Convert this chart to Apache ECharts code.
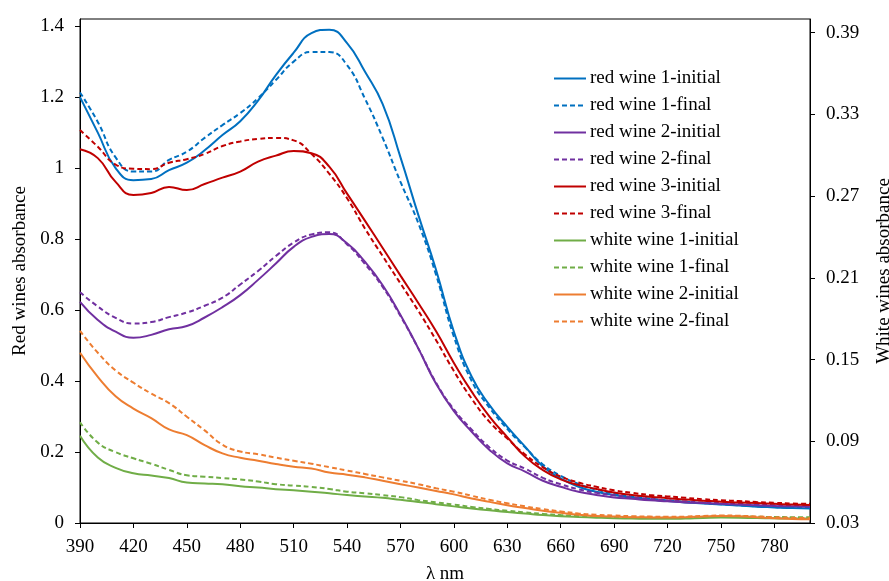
<!DOCTYPE html>
<html>
<head>
<meta charset="utf-8">
<script src="https://cdn.jsdelivr.net/npm/echarts@6/dist/echarts.min.js"></script>
<style>
  html, body { margin: 0; padding: 0; background: #fff; }
  #main { width: 889px; height: 581px; }
</style>
</head>
<body>
<div id="main"></div>
<script>
// wavelengths (nm)
var wavelengths = [390, 400, 410, 420, 430, 440, 450, 460, 470, 480, 490, 500, 510, 520, 530, 540, 550, 560, 570, 580,
  590, 600, 610, 620, 630, 640, 650, 660, 670, 680, 690, 700, 710, 720, 730, 740, 750, 760, 770, 780, 790, 800];

// red wines (left axis)
var red1Initial = [1.20, 1.10, 1.00, 0.966, 0.969, 0.994, 1.015, 1.05, 1.093, 1.132, 1.19, 1.262, 1.325, 1.38, 1.39, 1.352, 1.272, 1.18, 1.03, 0.868,
  0.713, 0.539, 0.412, 0.332, 0.271, 0.215, 0.159, 0.126, 0.102, 0.088, 0.079, 0.071, 0.066, 0.062, 0.058, 0.055, 0.052, 0.049, 0.046, 0.044, 0.042, 0.041];
var red1Final = [1.213, 1.13, 1.03, 0.99, 0.99, 1.023, 1.046, 1.085, 1.121, 1.155, 1.197, 1.248, 1.300, 1.327, 1.327, 1.29, 1.196, 1.085, 0.961, 0.845,
  0.699, 0.525, 0.40, 0.325, 0.265, 0.213, 0.165, 0.133, 0.11, 0.094, 0.083, 0.075, 0.069, 0.064, 0.06, 0.056, 0.053, 0.05, 0.047, 0.045, 0.043, 0.042];
var red2Initial = [0.623, 0.572, 0.539, 0.522, 0.53, 0.546, 0.555, 0.579, 0.608, 0.642, 0.685, 0.731, 0.778, 0.806, 0.814, 0.788, 0.736, 0.670, 0.586, 0.492,
  0.392, 0.315, 0.257, 0.206, 0.168, 0.145, 0.119, 0.102, 0.088, 0.079, 0.072, 0.068, 0.064, 0.061, 0.058, 0.056, 0.054, 0.052, 0.050, 0.048, 0.047, 0.046];
var red2Final = [0.650, 0.61, 0.578, 0.562, 0.566, 0.58, 0.593, 0.612, 0.635, 0.672, 0.71, 0.752, 0.79, 0.813, 0.819, 0.785, 0.73, 0.665, 0.583, 0.492,
  0.395, 0.320, 0.263, 0.213, 0.176, 0.153, 0.127, 0.109, 0.095, 0.085, 0.078, 0.073, 0.068, 0.064, 0.061, 0.058, 0.056, 0.054, 0.052, 0.050, 0.049, 0.048];
var red3Initial = [1.053, 1.028, 0.961, 0.924, 0.93, 0.947, 0.938, 0.955, 0.973, 0.99, 1.018, 1.035, 1.048, 1.042, 1.004, 0.928, 0.852, 0.775, 0.697, 0.62,
  0.54, 0.451, 0.37, 0.30, 0.242, 0.187, 0.149, 0.123, 0.107, 0.096, 0.086, 0.079, 0.074, 0.070, 0.066, 0.063, 0.060, 0.058, 0.056, 0.054, 0.052, 0.051];
var red3Final = [1.107, 1.06, 1.01, 0.998, 0.997, 1.015, 1.025, 1.04, 1.062, 1.075, 1.082, 1.085, 1.078, 1.04, 0.984, 0.915, 0.83, 0.752, 0.675, 0.598,
  0.515, 0.428, 0.35, 0.285, 0.238, 0.193, 0.157, 0.131, 0.114, 0.102, 0.092, 0.085, 0.079, 0.075, 0.071, 0.067, 0.064, 0.062, 0.059, 0.057, 0.055, 0.054];

// white wines (right axis)
var white1Initial = [0.094, 0.078, 0.0705, 0.0665, 0.0648, 0.063, 0.0597, 0.059, 0.0585, 0.057, 0.056, 0.0548, 0.054, 0.053, 0.0518, 0.0505, 0.0495, 0.0485, 0.047, 0.0455,
  0.0438, 0.0422, 0.0407, 0.0393, 0.038, 0.0369, 0.0358, 0.035, 0.0344, 0.0339, 0.0335, 0.0333, 0.0331, 0.0331, 0.0333, 0.0337, 0.034, 0.0339, 0.0336, 0.0334, 0.0333, 0.0333];
var white1Final = [0.104, 0.089, 0.082, 0.0775, 0.0735, 0.069, 0.065, 0.064, 0.063, 0.062, 0.0605, 0.0585, 0.0575, 0.0565, 0.055, 0.053, 0.0518, 0.0505, 0.049, 0.0468,
  0.0452, 0.0435, 0.0418, 0.0403, 0.039, 0.0378, 0.0367, 0.0358, 0.0352, 0.0347, 0.0343, 0.034, 0.0339, 0.0339, 0.034, 0.0345, 0.0348, 0.0348, 0.0346, 0.0344, 0.0343, 0.0343];
var white2Initial = [0.155, 0.1373, 0.123, 0.114, 0.107, 0.0987, 0.0945, 0.0872, 0.0811, 0.0779, 0.0757, 0.0733, 0.0713, 0.070, 0.067, 0.0655, 0.0635, 0.061, 0.0585, 0.056,
  0.0535, 0.051, 0.048, 0.0455, 0.043, 0.041, 0.039, 0.0375, 0.036, 0.0352, 0.0347, 0.0343, 0.0341, 0.034, 0.0342, 0.0348, 0.0352, 0.035, 0.0343, 0.0335, 0.033, 0.0327];
var white2Final = [0.171, 0.155, 0.142, 0.133, 0.125, 0.118, 0.108, 0.098, 0.0875, 0.0825, 0.0805, 0.078, 0.0757, 0.0735, 0.071, 0.0685, 0.066, 0.0635, 0.061, 0.0585,
  0.0555, 0.053, 0.050, 0.047, 0.0445, 0.0422, 0.0402, 0.0385, 0.037, 0.036, 0.0355, 0.035, 0.0347, 0.0345, 0.0347, 0.0352, 0.0355, 0.0353, 0.0348, 0.0342, 0.0338, 0.0335];

// tick labels
var xTicks = [390, 420, 450, 480, 510, 540, 570, 600, 630, 660, 690, 720, 750, 780];
var leftTicks = [0, 0.2, 0.4, 0.6, 0.8, 1, 1.2, 1.4];
var rightTicks = [0.03, 0.09, 0.15, 0.21, 0.27, 0.33, 0.39];

var FONT = 'Liberation Serif';
var BLUE = '#0070C0', PURPLE = '#7030A0', RED = '#C00000', GREEN = '#70AD47', ORANGE = '#ED7D31';

function pairs(vals) {
  return wavelengths.map(function (w, i) { return [w, vals[i]]; });
}

function line(name, vals, color, dashed, axis) {
  return {
    name: name,
    type: 'line',
    yAxisIndex: axis,
    data: pairs(vals),
    smooth: 0.5,
    smoothConstraint: false,
    symbol: 'none',
    lineStyle: { color: color, width: 2, type: dashed ? [5, 3] : 'solid' },
    itemStyle: { color: color }
  };
}

var myChart = echarts.init(document.getElementById('main'));

myChart.setOption({
  backgroundColor: '#fff',
  animation: false,
  textStyle: { fontFamily: FONT },
  grid: {
    left: 80, right: 79, top: 19, bottom: 58,
    containLabel: false, outerBoundsMode: 'none',
    show: true, borderColor: '#000', borderWidth: 1
  },
  legend: {
    orient: 'vertical',
    left: 553,
    top: 69,
    padding: 0,
    itemWidth: 32,
    itemHeight: 14,
    itemGap: 8,
    itemStyle: { opacity: 0 },
    textStyle: { fontFamily: FONT, fontSize: 19, color: '#000', padding: [0, 0, 0, -1] },
    data: ['red wine 1-initial', 'red wine 1-final', 'red wine 2-initial', 'red wine 2-final',
      'red wine 3-initial', 'red wine 3-final', 'white wine 1-initial', 'white wine 1-final',
      'white wine 2-initial', 'white wine 2-final']
  },
  xAxis: {
    type: 'value',
    min: 390,
    max: 800,
    name: 'λ nm',
    nameLocation: 'middle',
    nameGap: 42,
    nameTextStyle: { fontFamily: FONT, fontSize: 19, color: '#000' },
    axisLine: { lineStyle: { color: '#000', width: 1 } },
    axisTick: { show: true, length: 5, customValues: xTicks, lineStyle: { color: '#000' } },
    axisLabel: { customValues: xTicks, margin: 15, fontFamily: FONT, fontSize: 19, color: '#000' },
    splitLine: { show: false }
  },
  yAxis: [
    {
      type: 'value',
      min: 0,
      max: 1.42,
      name: 'Red wines absorbance',
      nameLocation: 'middle',
      nameRotate: 90,
      nameGap: 42,
      nameTextStyle: { fontFamily: FONT, fontSize: 19, color: '#000' },
      axisLine: { show: true, lineStyle: { color: '#000', width: 1 } },
      axisTick: { show: true, length: 5, customValues: leftTicks, lineStyle: { color: '#000' } },
      axisLabel: { customValues: leftTicks, margin: 16, fontFamily: FONT, fontSize: 19, color: '#000' },
      splitLine: { show: false }
    },
    {
      type: 'value',
      min: 0.03,
      max: 0.40,
      position: 'right',
      name: 'White wines absorbance',
      nameLocation: 'middle',
      nameRotate: 90,
      nameGap: 65,
      nameTextStyle: { fontFamily: FONT, fontSize: 19, color: '#000' },
      axisLine: { show: true, lineStyle: { color: '#000', width: 1 } },
      axisTick: { show: true, length: 5, customValues: rightTicks, lineStyle: { color: '#000' } },
      axisLabel: {
        customValues: rightTicks, margin: 16, fontFamily: FONT, fontSize: 19, color: '#000',
        formatter: function (v) { return v.toFixed(2); }
      },
      splitLine: { show: false }
    }
  ],
  series: [
    line('red wine 1-initial', red1Initial, BLUE, false, 0),
    line('red wine 1-final', red1Final, BLUE, true, 0),
    line('red wine 2-initial', red2Initial, PURPLE, false, 0),
    line('red wine 2-final', red2Final, PURPLE, true, 0),
    line('red wine 3-initial', red3Initial, RED, false, 0),
    line('red wine 3-final', red3Final, RED, true, 0),
    line('white wine 1-initial', white1Initial, GREEN, false, 1),
    line('white wine 1-final', white1Final, GREEN, true, 1),
    line('white wine 2-initial', white2Initial, ORANGE, false, 1),
    line('white wine 2-final', white2Final, ORANGE, true, 1)
  ]
});
</script>
</body>
</html>
